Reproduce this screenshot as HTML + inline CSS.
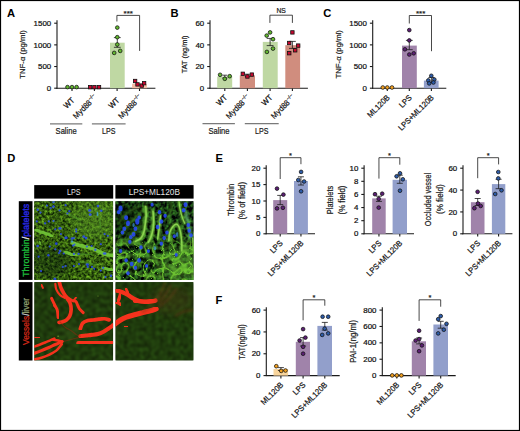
<!DOCTYPE html>
<html><head><meta charset="utf-8"><style>
html,body{margin:0;padding:0;background:#fff;}
svg{display:block;}
text{font-family:"Liberation Sans", sans-serif;}
</style></head><body>
<svg width="520" height="431" viewBox="0 0 520 431">
<rect x="0" y="0" width="520" height="431" fill="#fff"/>
<defs>
<clipPath id="cTL"><rect x="34.2" y="201.2" width="78.9" height="78.7"/></clipPath>
<clipPath id="cTR"><rect x="115.4" y="201.2" width="78.1" height="78.7"/></clipPath>
<clipPath id="cBL"><rect x="34.2" y="282.1" width="78.9" height="78.4"/></clipPath>
<clipPath id="cBR"><rect x="115.4" y="282.1" width="78.1" height="78.4"/></clipPath>
<filter id="nTL" x="0" y="0" width="100%" height="100%" color-interpolation-filters="sRGB">
<feTurbulence type="fractalNoise" baseFrequency="0.38" numOctaves="2" seed="7"/>
<feColorMatrix type="matrix" values="0.7 0 0 0 -0.14  1.05 0 0 0 -0.15  0.2 0 0 0 -0.04  0 0 0 0 1"/>
<feGaussianBlur stdDeviation="0.45"/>
</filter>
<filter id="nTR" x="0" y="0" width="100%" height="100%" color-interpolation-filters="sRGB">
<feTurbulence type="fractalNoise" baseFrequency="0.26" numOctaves="2" seed="9"/>
<feColorMatrix type="matrix" values="0.5 0 0 0 -0.17  1.2 0 0 0 -0.4  0.3 0 0 0 -0.08  0 0 0 0 1"/>
<feGaussianBlur stdDeviation="0.5"/>
</filter>
<filter id="nBL" x="0" y="0" width="100%" height="100%" color-interpolation-filters="sRGB">
<feTurbulence type="fractalNoise" baseFrequency="0.25" numOctaves="2" seed="11"/>
<feColorMatrix type="matrix" values="0.16 0 0 0 0.04  0.34 0 0 0 0.06  0.08 0 0 0 0.01  0 0 0 0 1"/>
<feGaussianBlur stdDeviation="0.8"/>
</filter>
<filter id="nBR" x="0" y="0" width="100%" height="100%" color-interpolation-filters="sRGB">
<feTurbulence type="fractalNoise" baseFrequency="0.25" numOctaves="2" seed="13"/>
<feColorMatrix type="matrix" values="0.16 0 0 0 0.04  0.34 0 0 0 0.06  0.08 0 0 0 0.01  0 0 0 0 1"/>
<feGaussianBlur stdDeviation="0.8"/>
</filter>
<filter id="net" x="0" y="0" width="100%" height="100%" color-interpolation-filters="sRGB">
<feTurbulence type="turbulence" baseFrequency="0.11" numOctaves="1" seed="21"/>
<feColorMatrix type="matrix" values="0 0 0 0 0.45  0 0 0 0 0.8  0 0 0 0 0.2  -7 0 0 0 1.0"/>
<feGaussianBlur stdDeviation="0.55"/>
</filter>
<filter id="b03"><feGaussianBlur stdDeviation="0.3"/></filter>
<filter id="b05"><feGaussianBlur stdDeviation="0.5"/></filter>
<filter id="b07"><feGaussianBlur stdDeviation="0.7"/></filter>
<filter id="b09" x="-20%" y="-20%" width="140%" height="140%"><feGaussianBlur stdDeviation="0.9"/></filter>
<filter id="b12" x="-50%" y="-50%" width="200%" height="200%"><feGaussianBlur stdDeviation="1.2"/></filter>
<filter id="b4" x="-50%" y="-50%" width="200%" height="200%"><feGaussianBlur stdDeviation="5"/></filter>
</defs>
<rect x="34.2" y="185.1" width="79" height="13.5" fill="#000"/>
<rect x="115.4" y="185.1" width="78.2" height="13.5" fill="#000"/>
<text x="73.7" y="194.8" font-size="9.1" text-anchor="middle" fill="#e6e6e6" textLength="13.6" lengthAdjust="spacingAndGlyphs">LPS</text>
<text x="154.3" y="194.7" font-size="9.1" text-anchor="middle" fill="#e6e6e6" textLength="51.2" lengthAdjust="spacingAndGlyphs">LPS+ML120B</text>
<rect x="18.8" y="201.2" width="13.7" height="78.7" fill="#000"/>
<rect x="18.8" y="282.1" width="13.7" height="78.4" fill="#000"/>
<text transform="translate(28.8,240.3) rotate(-90)" font-size="8.6" text-anchor="middle" textLength="73" lengthAdjust="spacingAndGlyphs" stroke-width="0.35"><tspan fill="#1db83a" stroke="#1db83a">Thrombin</tspan><tspan fill="#e0e0e0" stroke="#e0e0e0">/</tspan><tspan fill="#2a2ae6" stroke="#2a2ae6">platelets</tspan></text>
<text transform="translate(28.8,321.5) rotate(-90)" font-size="8.6" text-anchor="middle" textLength="47" lengthAdjust="spacingAndGlyphs" stroke-width="0.25"><tspan fill="#d82a18" stroke="#d82a18">Vessels</tspan><tspan fill="#e0e0e0" stroke="#e0e0e0">/</tspan><tspan fill="#93a472" stroke="#93a472">liver</tspan></text>
<g clip-path="url(#cTL)">
<rect x="34.2" y="201.2" width="78.9" height="78.7" fill="#22401a"/>
<rect x="34.2" y="201.2" width="78.9" height="78.7" filter="url(#nTL)"/>
<ellipse cx="95" cy="220" rx="24" ry="20" fill="#5c9a2c" opacity="0.4" filter="url(#b4)"/>
<ellipse cx="50" cy="262" rx="22" ry="16" fill="#0e2008" opacity="0.45" filter="url(#b4)"/>
<path d="M35.9,229.8 C36.52,230.1 38.22,231.07 39.6,231.6 C40.98,232.13 42.67,232.53 44.2,233 C45.73,233.47 47.57,233.85 48.8,234.4 C50.03,234.95 51.13,235.98 51.6,236.3" fill="none" stroke="#72c639" stroke-width="3.0" stroke-linecap="round" stroke-linejoin="round" opacity="0.9" filter="url(#b07)"/>
<path d="M73,243.2 C73.93,243.52 76.75,244.55 78.6,245.1 C80.45,245.65 82.25,246.03 84.1,246.5 C85.95,246.97 87.83,247.37 89.7,247.9 C91.57,248.43 93.45,248.93 95.3,249.7 C97.15,250.47 98.95,251.72 100.8,252.5 C102.65,253.28 104.28,253.9 106.4,254.4 C108.52,254.9 112.32,255.32 113.5,255.5" fill="none" stroke="#72c639" stroke-width="3.6" stroke-linecap="round" stroke-linejoin="round" opacity="0.95" filter="url(#b07)"/>
<path d="M65.6,252.1 C66.08,252.28 67.43,252.75 68.5,253.2 C69.57,253.65 70.75,254.42 72,254.8 C73.25,255.18 75.33,255.38 76,255.5" fill="none" stroke="#72c639" stroke-width="3.2" stroke-linecap="round" stroke-linejoin="round" opacity="0.9" filter="url(#b07)"/>
<path d="M102.7,267.8 C103.63,268.03 106.42,268.73 108.3,269.2 C110.18,269.67 113.05,270.37 114,270.6" fill="none" stroke="#72c639" stroke-width="3.0" stroke-linecap="round" stroke-linejoin="round" opacity="0.9" filter="url(#b07)"/>
<path d="M77.6,253.9 C78.67,254 81.67,254.35 84,254.5 C86.33,254.65 90.33,254.75 91.6,254.8" fill="none" stroke="#4e9628" stroke-width="2.0" stroke-linecap="round" stroke-linejoin="round" opacity="0.7" filter="url(#b07)"/>
<path d="M96.7,211.2 C97,212 97.97,214.45 98.5,216 C99.03,217.55 99.57,218.5 99.9,220.5 C100.23,222.5 100.4,226.75 100.5,228" fill="none" stroke="#4e9628" stroke-width="1.6" stroke-linecap="round" stroke-linejoin="round" opacity="0.7" filter="url(#b07)"/>
<path d="M60,208 C61,208.67 64,210.67 66,212 C68,213.33 70,214.83 72,216 C74,217.17 77,218.5 78,219" fill="none" stroke="#4e9628" stroke-width="2.0" stroke-linecap="round" stroke-linejoin="round" opacity="0.6" filter="url(#b07)"/>
<path d="M39.6,242 L40.5,244" fill="none" stroke="#72c639" stroke-width="2.0" stroke-linecap="round" stroke-linejoin="round" opacity="0.8" filter="url(#b07)"/>
<path d="M80,262 C81.33,262.17 85.33,262.5 88,263 C90.67,263.5 94.67,264.67 96,265" fill="none" stroke="#4e9628" stroke-width="1.8" stroke-linecap="round" stroke-linejoin="round" opacity="0.6" filter="url(#b07)"/>
<g filter="url(#b07)" opacity="0.8">
<ellipse cx="53.5" cy="202" rx="1.3" ry="1.3" fill="#2a4cff"/>
<ellipse cx="53.5" cy="206.6" rx="1.3" ry="1.3" fill="#2a4cff"/>
<ellipse cx="50.7" cy="208" rx="1.1" ry="1.1" fill="#2a4cff"/>
<ellipse cx="37.7" cy="209.8" rx="1.2" ry="1.2" fill="#2a4cff"/>
<ellipse cx="40.5" cy="212.6" rx="1.1" ry="1.1" fill="#2a4cff"/>
<ellipse cx="36.8" cy="221.4" rx="1.1" ry="1.1" fill="#2a4cff"/>
<ellipse cx="48.8" cy="221.4" rx="1.1" ry="1.1" fill="#2a4cff"/>
<ellipse cx="53.5" cy="221" rx="1.1" ry="1.1" fill="#2a4cff"/>
<ellipse cx="45.1" cy="223.3" rx="1.1" ry="1.1" fill="#2a4cff"/>
<ellipse cx="60" cy="228.4" rx="1.7" ry="1.4" fill="#2a4cff"/>
<ellipse cx="55.3" cy="229.3" rx="1.1" ry="1.1" fill="#2a4cff"/>
<ellipse cx="60.9" cy="234" rx="1.1" ry="1.1" fill="#2a4cff"/>
<ellipse cx="66" cy="237.7" rx="1.8" ry="1.5" fill="#2a4cff"/>
<ellipse cx="72" cy="238.6" rx="1.4" ry="1.4" fill="#2a4cff"/>
<ellipse cx="69.3" cy="211.2" rx="1.1" ry="1.1" fill="#2a4cff"/>
<ellipse cx="67.4" cy="213.5" rx="1.1" ry="1.1" fill="#2a4cff"/>
<ellipse cx="59.5" cy="210.3" rx="1.1" ry="1.1" fill="#2a4cff"/>
<ellipse cx="47" cy="205.6" rx="1.1" ry="1.1" fill="#2a4cff"/>
<ellipse cx="65.6" cy="205.2" rx="1.1" ry="1.1" fill="#2a4cff"/>
<ellipse cx="98" cy="206.1" rx="1.3" ry="1.3" fill="#2a4cff"/>
<ellipse cx="89.7" cy="210.3" rx="1.6" ry="1.6" fill="#2a4cff"/>
<ellipse cx="90.2" cy="214.5" rx="1.5" ry="1.5" fill="#2a4cff"/>
<ellipse cx="101.3" cy="210.7" rx="1.3" ry="1.3" fill="#2a4cff"/>
<ellipse cx="76.2" cy="229.3" rx="1.1" ry="1.1" fill="#2a4cff"/>
<ellipse cx="76.2" cy="231.6" rx="1.1" ry="1.1" fill="#2a4cff"/>
<ellipse cx="83.7" cy="236.7" rx="1.4" ry="1.4" fill="#2a4cff"/>
<ellipse cx="86" cy="238.1" rx="1.4" ry="1.4" fill="#2a4cff"/>
<ellipse cx="73.9" cy="238.1" rx="1.1" ry="1.1" fill="#2a4cff"/>
<ellipse cx="107.8" cy="235.8" rx="1.1" ry="1.1" fill="#2a4cff"/>
<ellipse cx="104.6" cy="234" rx="1.1" ry="1.1" fill="#2a4cff"/>
<ellipse cx="37.7" cy="246" rx="1.3" ry="1.3" fill="#2a4cff"/>
<ellipse cx="56.3" cy="243.7" rx="1.4" ry="1.4" fill="#2a4cff"/>
<ellipse cx="49.8" cy="246.5" rx="1.1" ry="1.1" fill="#2a4cff"/>
<ellipse cx="55.3" cy="249.3" rx="1.1" ry="1.1" fill="#2a4cff"/>
<ellipse cx="60" cy="251.1" rx="1.3" ry="1.3" fill="#2a4cff"/>
<ellipse cx="59" cy="253" rx="1.1" ry="1.1" fill="#2a4cff"/>
<ellipse cx="63.7" cy="253.5" rx="1.1" ry="1.1" fill="#2a4cff"/>
<ellipse cx="48.4" cy="255.3" rx="1.2" ry="1.2" fill="#2a4cff"/>
<ellipse cx="38.6" cy="256.7" rx="1.1" ry="1.1" fill="#2a4cff"/>
<ellipse cx="65.6" cy="266" rx="1.1" ry="1.1" fill="#2a4cff"/>
<ellipse cx="62.8" cy="266.9" rx="1.1" ry="1.1" fill="#2a4cff"/>
<ellipse cx="41" cy="271.1" rx="1.1" ry="1.1" fill="#2a4cff"/>
<ellipse cx="54.9" cy="279" rx="1.5" ry="1.5" fill="#2a4cff"/>
<ellipse cx="73" cy="245.6" rx="1.1" ry="1.1" fill="#2a4cff"/>
<ellipse cx="74.4" cy="244.6" rx="1.1" ry="1.1" fill="#2a4cff"/>
<ellipse cx="100.8" cy="244.2" rx="1.1" ry="1.1" fill="#2a4cff"/>
<ellipse cx="91.6" cy="246" rx="1.1" ry="1.1" fill="#2a4cff"/>
<ellipse cx="86.9" cy="246.5" rx="1.1" ry="1.1" fill="#2a4cff"/>
<ellipse cx="95.3" cy="249.7" rx="1.2" ry="1.2" fill="#2a4cff"/>
<ellipse cx="104.6" cy="253.5" rx="1.8" ry="1.3" fill="#2a4cff"/>
<ellipse cx="73.9" cy="253.9" rx="1.1" ry="1.1" fill="#2a4cff"/>
<ellipse cx="78.6" cy="253.9" rx="1.1" ry="1.1" fill="#2a4cff"/>
<ellipse cx="79" cy="264.1" rx="1.1" ry="1.1" fill="#2a4cff"/>
<ellipse cx="87.4" cy="264.6" rx="1.7" ry="1.4" fill="#2a4cff"/>
<ellipse cx="87.8" cy="266.9" rx="1.1" ry="1.1" fill="#2a4cff"/>
<ellipse cx="92" cy="266.9" rx="1.1" ry="1.1" fill="#2a4cff"/>
<ellipse cx="94.3" cy="268.8" rx="1.1" ry="1.1" fill="#2a4cff"/>
<ellipse cx="103.2" cy="267.8" rx="1.1" ry="1.1" fill="#2a4cff"/>
<ellipse cx="73.9" cy="266" rx="1.1" ry="1.1" fill="#2a4cff"/>
<ellipse cx="111" cy="275.7" rx="1.3" ry="1.3" fill="#2a4cff"/>
<ellipse cx="105.5" cy="277.1" rx="1.1" ry="1.1" fill="#2a4cff"/>
<ellipse cx="100.8" cy="270.6" rx="1.1" ry="1.1" fill="#2a4cff"/>
</g>
<g filter="url(#b05)" opacity="0.8">
<ellipse cx="72" cy="241.4" rx="1.2" ry="1.2" fill="#3f9ad8"/>
<ellipse cx="97.5" cy="214" rx="0.9" ry="2.2" fill="#3f9ad8"/>
</g>
</g>
<g clip-path="url(#cTR)">
<rect x="115.4" y="201.2" width="78.1" height="78.7" fill="#15280c"/>
<rect x="115.4" y="201.2" width="78.1" height="78.7" filter="url(#nTR)"/>
<ellipse cx="180" cy="266" rx="18" ry="16" fill="#5aa030" opacity="0.45" filter="url(#b4)"/>
<ellipse cx="128" cy="222" rx="14" ry="18" fill="#061006" opacity="0.45" filter="url(#b4)"/>
<linearGradient id="gnet" x1="0" y1="0" x2="0" y2="1"><stop offset="0.38" stop-color="#fff" stop-opacity="0"/><stop offset="0.62" stop-color="#fff" stop-opacity="1"/></linearGradient>
<mask id="mnet"><rect x="115.4" y="201.2" width="78.1" height="78.7" fill="url(#gnet)"/></mask>
<rect x="115.4" y="201.2" width="78.1" height="78.7" filter="url(#net)" opacity="0.9" mask="url(#mnet)"/>
<path d="M145.61,206.57 C145.71,208.11 146.26,212.75 146.17,215.84 C146.08,218.93 145.46,222.34 145.06,225.12 C144.65,227.9 144.44,230.38 143.76,232.54 C143.08,234.7 142.37,236.62 140.97,238.11 C139.58,239.59 136.34,240.89 135.41,241.45" fill="none" stroke="#72c639" stroke-width="3.57" stroke-linecap="round" stroke-linejoin="round" opacity="0.9025" filter="url(#b09)"/>
<path d="M145.61,206.57 C145.71,208.11 146.26,212.75 146.17,215.84 C146.08,218.93 145.46,222.34 145.06,225.12 C144.65,227.9 144.44,230.38 143.76,232.54 C143.08,234.7 142.37,236.62 140.97,238.11 C139.58,239.59 136.34,240.89 135.41,241.45" fill="none" stroke="#96dc58" stroke-width="1.53" stroke-linecap="round" stroke-linejoin="round" opacity="0.85" filter="url(#b03)"/>
<path d="M153.03,211.2 C153.13,212.6 153.59,216.62 153.59,219.55 C153.59,222.49 153.44,226.05 153.03,228.83 C152.63,231.61 151.95,234.02 151.18,236.25 C150.41,238.48 148.86,241.2 148.4,242.19" fill="none" stroke="#72c639" stroke-width="3.57" stroke-linecap="round" stroke-linejoin="round" opacity="0.9025" filter="url(#b09)"/>
<path d="M153.03,211.2 C153.13,212.6 153.59,216.62 153.59,219.55 C153.59,222.49 153.44,226.05 153.03,228.83 C152.63,231.61 151.95,234.02 151.18,236.25 C150.41,238.48 148.86,241.2 148.4,242.19" fill="none" stroke="#96dc58" stroke-width="1.53" stroke-linecap="round" stroke-linejoin="round" opacity="0.85" filter="url(#b03)"/>
<path d="M160.45,215.84 C160.3,217.39 159.84,222.34 159.53,225.12 C159.22,227.9 158.91,230.22 158.6,232.54 C158.29,234.86 157.83,237.95 157.67,239.03" fill="none" stroke="#72c639" stroke-width="3.1500000000000004" stroke-linecap="round" stroke-linejoin="round" opacity="0.855" filter="url(#b09)"/>
<path d="M160.45,215.84 C160.3,217.39 159.84,222.34 159.53,225.12 C159.22,227.9 158.91,230.22 158.6,232.54 C158.29,234.86 157.83,237.95 157.67,239.03" fill="none" stroke="#96dc58" stroke-width="1.35" stroke-linecap="round" stroke-linejoin="round" opacity="0.85" filter="url(#b03)"/>
<path d="M122.42,232.54 C123.04,231.61 124.28,229.14 126.13,226.97 C127.99,224.81 131.08,222.03 133.55,219.55 C136.03,217.08 139.12,213.99 140.97,212.13 C142.83,210.28 144.07,209.04 144.68,208.42" fill="none" stroke="#4e9628" stroke-width="2.1" stroke-linecap="round" stroke-linejoin="round" opacity="0.8075" filter="url(#b09)"/>
<path d="M118.71,223.26 C119.64,222.03 122.11,218.01 124.28,215.84 C126.44,213.68 129.22,211.82 131.7,210.28 C134.17,208.73 137.88,207.18 139.12,206.57" fill="none" stroke="#4e9628" stroke-width="1.8900000000000001" stroke-linecap="round" stroke-linejoin="round" opacity="0.76" filter="url(#b09)"/>
<path d="M126.13,241.82 C127.06,240.58 129.84,236.56 131.7,234.4 C133.55,232.23 135.72,230.38 137.26,228.83 C138.81,227.28 140.36,225.74 140.97,225.12" fill="none" stroke="#4e9628" stroke-width="2.1" stroke-linecap="round" stroke-linejoin="round" opacity="0.8075" filter="url(#b09)"/>
<path d="M168.8,240.89 C168.96,239.5 169.11,234.86 169.73,232.54 C170.35,230.22 171.43,228.37 172.51,226.97 C173.6,225.58 175.14,224.19 176.22,224.19 C177.31,224.19 178.23,225.27 179.01,226.97 C179.78,228.67 180.4,231.61 180.86,234.4 C181.33,237.18 181.64,240.89 181.79,243.67 C181.94,246.45 181.79,249.86 181.79,251.09" fill="none" stroke="#72c639" stroke-width="3.1500000000000004" stroke-linecap="round" stroke-linejoin="round" opacity="0.855" filter="url(#b09)"/>
<path d="M168.8,240.89 C168.96,239.5 169.11,234.86 169.73,232.54 C170.35,230.22 171.43,228.37 172.51,226.97 C173.6,225.58 175.14,224.19 176.22,224.19 C177.31,224.19 178.23,225.27 179.01,226.97 C179.78,228.67 180.4,231.61 180.86,234.4 C181.33,237.18 181.64,240.89 181.79,243.67 C181.94,246.45 181.79,249.86 181.79,251.09" fill="none" stroke="#96dc58" stroke-width="1.35" stroke-linecap="round" stroke-linejoin="round" opacity="0.85" filter="url(#b03)"/>
<path d="M179.01,201 C179.16,202.24 179.47,205.95 179.94,208.42 C180.4,210.89 181.02,213.37 181.79,215.84 C182.56,218.32 184.11,222.03 184.57,223.26" fill="none" stroke="#72c639" stroke-width="2.7300000000000004" stroke-linecap="round" stroke-linejoin="round" opacity="0.855" filter="url(#b09)"/>
<path d="M179.01,201 C179.16,202.24 179.47,205.95 179.94,208.42 C180.4,210.89 181.02,213.37 181.79,215.84 C182.56,218.32 184.11,222.03 184.57,223.26" fill="none" stroke="#96dc58" stroke-width="1.1700000000000002" stroke-linecap="round" stroke-linejoin="round" opacity="0.85" filter="url(#b03)"/>
<path d="M185.5,212.13 C185.81,213.37 186.74,216.77 187.36,219.55 C187.97,222.34 188.75,225.74 189.21,228.83 C189.68,231.92 189.98,236.56 190.14,238.11" fill="none" stroke="#6cc27a" stroke-width="2.7300000000000004" stroke-linecap="round" stroke-linejoin="round" opacity="0.8075" filter="url(#b09)"/>
<path d="M170.66,201 C170.81,202.24 171.9,205.95 171.59,208.42 C171.28,210.89 169.42,213.37 168.8,215.84 C168.18,218.32 168.03,222.03 167.88,223.26" fill="none" stroke="#4e9628" stroke-width="2.1" stroke-linecap="round" stroke-linejoin="round" opacity="0.76" filter="url(#b09)"/>
<path d="M115,245.53 C116.24,245.22 119.95,244.14 122.42,243.67 C124.89,243.21 127.37,242.74 129.84,242.74 C132.32,242.74 134.79,243.21 137.26,243.67 C139.74,244.14 142.21,244.91 144.68,245.53 C147.16,246.15 149.32,246.92 152.11,247.38 C154.89,247.85 158.29,248.31 161.38,248.31 C164.47,248.31 168.18,247.85 170.66,247.38 C173.13,246.92 175.3,245.84 176.22,245.53" fill="none" stroke="#72c639" stroke-width="2.21" stroke-linecap="round" stroke-linejoin="round" opacity="0.54" filter="url(#b09)"/>
<path d="M126.13,256.66 C127.99,256.35 133.86,254.8 137.26,254.8 C140.66,254.8 143.14,256.35 146.54,256.66 C149.94,256.97 154.27,256.97 157.67,256.66 C161.07,256.35 163.86,255.42 166.95,254.8 C170.04,254.18 172.51,253.88 176.22,252.95 C179.94,252.02 187.05,249.86 189.21,249.24" fill="none" stroke="#72c639" stroke-width="2.38" stroke-linecap="round" stroke-linejoin="round" opacity="0.54" filter="url(#b09)"/>
<path d="M133.55,265.94 C134.79,265.32 138.5,263.15 140.97,262.22 C143.45,261.3 145.3,260.37 148.4,260.37 C151.49,260.37 156.43,261.3 159.53,262.22 C162.62,263.15 164.17,264.7 166.95,265.94 C169.73,267.17 173.13,268.72 176.22,269.65 C179.32,270.57 182.38,271.5 185.5,271.5 C188.62,271.5 193.39,269.95 194.96,269.65" fill="none" stroke="#72c639" stroke-width="2.38" stroke-linecap="round" stroke-linejoin="round" opacity="0.54" filter="url(#b09)"/>
<path d="M115,275.21 C116.86,274.59 122.42,271.81 126.13,271.5 C129.84,271.19 132.93,272.74 137.26,273.36 C141.59,273.97 147.78,274.59 152.11,275.21 C156.43,275.83 161.38,276.76 163.24,277.07" fill="none" stroke="#72c639" stroke-width="2.21" stroke-linecap="round" stroke-linejoin="round" opacity="0.51" filter="url(#b09)"/>
<path d="M185.5,247.38 C185.96,248.93 187.36,253.26 188.28,256.66 C189.21,260.06 190.14,263.74 191.07,267.79 C191.99,271.84 193.39,278.77 193.85,280.96" fill="none" stroke="#72c639" stroke-width="3.06" stroke-linecap="round" stroke-linejoin="round" opacity="0.57" filter="url(#b09)"/>
<path d="M170.66,256.66 C170.97,257.9 171.9,261.61 172.51,264.08 C173.13,266.55 173.75,268.69 174.37,271.5 C174.99,274.31 175.92,279.39 176.22,280.96" fill="none" stroke="#72c639" stroke-width="2.38" stroke-linecap="round" stroke-linejoin="round" opacity="0.54" filter="url(#b09)"/>
<path d="M152.11,247.38 C152.57,248.62 154.12,252.33 154.89,254.8 C155.66,257.28 155.97,259.44 156.74,262.22 C157.52,265.01 158.91,268.38 159.53,271.5 C160.15,274.62 160.3,279.39 160.45,280.96" fill="none" stroke="#72c639" stroke-width="2.04" stroke-linecap="round" stroke-linejoin="round" opacity="0.51" filter="url(#b09)"/>
<path d="M137.26,254.8 C137.42,256.04 138.35,259.75 138.19,262.22 C138.04,264.7 136.65,268.41 136.34,269.65" fill="none" stroke="#72c639" stroke-width="1.87" stroke-linecap="round" stroke-linejoin="round" opacity="0.48" filter="url(#b09)"/>
<path d="M115,260.37 C115.93,259.75 118.71,257.28 120.57,256.66 C122.42,256.04 125.2,256.66 126.13,256.66" fill="none" stroke="#4e9628" stroke-width="1.87" stroke-linecap="round" stroke-linejoin="round" opacity="0.48" filter="url(#b09)"/>
<path d="M115,267.79 C116.24,267.48 119.33,266.24 122.42,265.94 C125.51,265.63 131.7,265.94 133.55,265.94" fill="none" stroke="#4e9628" stroke-width="1.7" stroke-linecap="round" stroke-linejoin="round" opacity="0.48" filter="url(#b09)"/>
<path d="M178.08,252.95 C178.7,254.18 180.55,257.28 181.79,260.37 C183.03,263.46 184.88,269.65 185.5,271.5" fill="none" stroke="#72c639" stroke-width="2.04" stroke-linecap="round" stroke-linejoin="round" opacity="0.51" filter="url(#b09)"/>
<path d="M192.92,238.11 C193.08,239.96 193.51,246.15 193.85,249.24 C194.19,252.33 194.78,255.42 194.96,256.66" fill="none" stroke="#72c639" stroke-width="3.1500000000000004" stroke-linecap="round" stroke-linejoin="round" opacity="0.855" filter="url(#b09)"/>
<path d="M192.92,238.11 C193.08,239.96 193.51,246.15 193.85,249.24 C194.19,252.33 194.78,255.42 194.96,256.66" fill="none" stroke="#96dc58" stroke-width="1.35" stroke-linecap="round" stroke-linejoin="round" opacity="0.85" filter="url(#b03)"/>
<g filter="url(#b07)" opacity="0.85">
<ellipse cx="120.57" cy="208.42" rx="2.08" ry="3.04" fill="#2a4cff"/>
<ellipse cx="118.71" cy="212.13" rx="1.76" ry="2.09" fill="#2a4cff"/>
<ellipse cx="126.13" cy="217.7" rx="2.08" ry="2.47" fill="#2a4cff"/>
<ellipse cx="127.99" cy="223.26" rx="1.92" ry="2.85" fill="#2a4cff"/>
<ellipse cx="124.28" cy="228.83" rx="1.92" ry="2.28" fill="#2a4cff"/>
<ellipse cx="122.42" cy="232.54" rx="1.76" ry="2.09" fill="#2a4cff"/>
<ellipse cx="137.26" cy="221.41" rx="2.08" ry="3.23" fill="#2a4cff"/>
<ellipse cx="139.12" cy="217.7" rx="1.76" ry="2.09" fill="#2a4cff"/>
<ellipse cx="135.41" cy="228.83" rx="1.92" ry="2.28" fill="#2a4cff"/>
<ellipse cx="133.55" cy="234.4" rx="1.92" ry="2.28" fill="#2a4cff"/>
<ellipse cx="130.77" cy="237.18" rx="1.76" ry="2.09" fill="#2a4cff"/>
<ellipse cx="129.84" cy="241.82" rx="1.76" ry="2.09" fill="#2a4cff"/>
<ellipse cx="140.97" cy="247.38" rx="1.76" ry="2.09" fill="#2a4cff"/>
<ellipse cx="159.53" cy="212.13" rx="1.76" ry="2.09" fill="#2a4cff"/>
<ellipse cx="165.09" cy="215.84" rx="1.76" ry="2.09" fill="#2a4cff"/>
<ellipse cx="161.38" cy="221.41" rx="1.92" ry="2.28" fill="#2a4cff"/>
<ellipse cx="157.67" cy="226.97" rx="1.92" ry="2.28" fill="#2a4cff"/>
<ellipse cx="166.95" cy="232.54" rx="1.76" ry="2.09" fill="#2a4cff"/>
<ellipse cx="164.17" cy="238.11" rx="1.76" ry="2.09" fill="#2a4cff"/>
<ellipse cx="161.38" cy="243.67" rx="1.76" ry="2.09" fill="#2a4cff"/>
<ellipse cx="185.5" cy="204.71" rx="2.08" ry="2.47" fill="#2a4cff"/>
<ellipse cx="183.65" cy="210.28" rx="1.92" ry="2.28" fill="#2a4cff"/>
<ellipse cx="188.28" cy="225.12" rx="1.76" ry="2.09" fill="#2a4cff"/>
<ellipse cx="189.21" cy="230.68" rx="1.76" ry="2.09" fill="#2a4cff"/>
<ellipse cx="191.07" cy="235.32" rx="1.76" ry="2.09" fill="#2a4cff"/>
<ellipse cx="131.7" cy="264.08" rx="1.92" ry="2.28" fill="#2a4cff"/>
<ellipse cx="139.12" cy="260.37" rx="1.92" ry="2.28" fill="#2a4cff"/>
<ellipse cx="126.13" cy="260.37" rx="1.76" ry="2.09" fill="#2a4cff"/>
<ellipse cx="120.57" cy="251.09" rx="1.76" ry="2.09" fill="#2a4cff"/>
<ellipse cx="135.41" cy="267.79" rx="1.76" ry="2.09" fill="#2a4cff"/>
<ellipse cx="127.99" cy="273.36" rx="1.76" ry="2.09" fill="#2a4cff"/>
<ellipse cx="148.4" cy="251.09" rx="1.6" ry="1.9" fill="#2a4cff"/>
<ellipse cx="176.22" cy="254.8" rx="1.6" ry="1.9" fill="#2a4cff"/>
<ellipse cx="152.11" cy="204.71" rx="1.6" ry="1.9" fill="#2a4cff"/>
<ellipse cx="174.37" cy="236.25" rx="1.6" ry="1.9" fill="#2a4cff"/>
<ellipse cx="146.54" cy="265.94" rx="1.6" ry="1.9" fill="#2a4cff"/>
</g>
<g filter="url(#b07)" opacity="0.7">
<ellipse cx="154.89" cy="248.31" rx="1.4" ry="2" fill="#3f9ad8"/>
<ellipse cx="177.15" cy="234.4" rx="1.2" ry="2.5" fill="#3f9ad8"/>
<ellipse cx="133.55" cy="225.12" rx="1.2" ry="2" fill="#3f9ad8"/>
</g>
<ellipse cx="144.68" cy="260.37" rx="2.23" ry="2.23" fill="#061006" opacity="0.7" filter="url(#b05)"/>
<ellipse cx="142.83" cy="251.09" rx="1.86" ry="1.86" fill="#061006" opacity="0.7" filter="url(#b05)"/>
<ellipse cx="170.66" cy="262.22" rx="1.86" ry="1.86" fill="#061006" opacity="0.7" filter="url(#b05)"/>
<ellipse cx="157.67" cy="251.09" rx="1.67" ry="1.67" fill="#061006" opacity="0.7" filter="url(#b05)"/>
<ellipse cx="129.84" cy="249.24" rx="1.67" ry="1.67" fill="#061006" opacity="0.7" filter="url(#b05)"/>
<ellipse cx="133.55" cy="271.5" rx="1.67" ry="1.67" fill="#061006" opacity="0.7" filter="url(#b05)"/>
<ellipse cx="152.11" cy="267.79" rx="1.86" ry="1.86" fill="#061006" opacity="0.7" filter="url(#b05)"/>
</g>
<g clip-path="url(#cBL)">
<rect x="34.2" y="282.1" width="78.9" height="78.4" fill="#1d3810"/>
<rect x="34.2" y="282.1" width="78.9" height="78.4" filter="url(#nBL)"/>
<ellipse cx="72" cy="332" rx="12" ry="8" fill="#3a5a1a" opacity="0.4" filter="url(#b4)"/>
<path d="M59.05,281.07 C59.36,282.15 60.13,285.56 60.9,287.57 C61.67,289.58 62.6,291.28 63.68,293.13 C64.77,294.99 66.31,297 67.4,298.7 C68.48,300.4 69.56,301.48 70.18,303.34 C70.8,305.19 71.2,307.66 71.11,309.83 C71.01,311.99 70.39,314.62 69.62,316.32 C68.85,318.02 67.77,319.11 66.47,320.03 C65.17,320.96 63.07,321.49 61.83,321.89 C60.59,322.29 59.51,322.35 59.05,322.45" fill="none" stroke="#f5321c" stroke-width="3.7012987012987013" stroke-linecap="round" stroke-linejoin="round" opacity="1.0" filter="url(#b05)"/>
<path d="M55.34,283.86 C55.49,284.78 55.49,287.57 56.26,289.42 C57.04,291.28 58.58,293.6 59.97,294.99 C61.37,296.38 63.84,297.31 64.61,297.77" fill="none" stroke="#f5321c" stroke-width="2.1428571428571432" stroke-linecap="round" stroke-linejoin="round" opacity="1.0" filter="url(#b05)"/>
<path d="M66.47,296.84 C67.4,297.46 70.49,299.78 72.03,300.55 C73.58,301.33 74.82,300.71 75.74,301.48 C76.67,302.25 76.98,303.95 77.6,305.19 C78.22,306.43 78.53,307.66 79.45,308.9 C80.38,310.14 82.55,311.99 83.17,312.61" fill="none" stroke="#f5321c" stroke-width="2.9220779220779223" stroke-linecap="round" stroke-linejoin="round" opacity="1.0" filter="url(#b05)"/>
<path d="M73.89,300.18 L75.93,297.58" fill="none" stroke="#f5321c" stroke-width="1.9480519480519483" stroke-linecap="round" stroke-linejoin="round" opacity="1.0" filter="url(#b05)"/>
<path d="M51.63,298.33 C51.93,299.01 52.86,301.11 53.48,302.41 C54.1,303.71 54.72,304.88 55.34,306.12 C55.95,307.36 56.79,308.59 57.19,309.83 C57.59,311.07 57.59,312.24 57.75,313.54 C57.9,314.84 58.06,316.94 58.12,317.62" fill="none" stroke="#f5321c" stroke-width="2.9220779220779223" stroke-linecap="round" stroke-linejoin="round" opacity="1.0" filter="url(#b05)"/>
<path d="M54.04,305.75 L56.63,307.97" fill="none" stroke="#f5321c" stroke-width="1.9480519480519483" stroke-linecap="round" stroke-linejoin="round" opacity="1.0" filter="url(#b05)"/>
<path d="M41.42,284.78 L42.91,287.94" fill="none" stroke="#f5321c" stroke-width="1.9480519480519483" stroke-linecap="round" stroke-linejoin="round" opacity="1.0" filter="url(#b05)"/>
<path d="M80.38,328.75 C80.75,327.83 81.37,324.55 82.61,323.19 C83.85,321.83 86.01,321.12 87.8,320.59 C89.6,320.06 91.51,320.28 93.37,320.03 C95.22,319.79 97.08,319.32 98.94,319.11 C100.79,318.89 102.8,318.61 104.5,318.73 C106.2,318.86 108.37,319.66 109.14,319.85" fill="none" stroke="#f5321c" stroke-width="3.7012987012987013" stroke-linecap="round" stroke-linejoin="round" opacity="1.0" filter="url(#b05)"/>
<path d="M80.38,336.17 C81.31,336.05 84.09,335.65 85.95,335.43 C87.8,335.22 89.5,335.12 91.51,334.88 C93.52,334.63 96,334.47 98.01,333.95 C100.02,333.42 101.87,332.59 103.57,331.72 C105.27,330.86 106.57,329.87 108.21,328.75 C109.85,327.64 112.54,325.66 113.41,325.04" fill="none" stroke="#f5321c" stroke-width="4.090909090909092" stroke-linecap="round" stroke-linejoin="round" opacity="1.0" filter="url(#b05)"/>
<path d="M78.53,343.22 C79.45,343.22 82.24,343.32 84.09,343.22 C85.95,343.13 87.49,342.76 89.66,342.67 C91.82,342.58 94.61,342.73 97.08,342.67 C99.55,342.61 101.72,342.51 104.5,342.3 C107.28,342.08 112.23,341.52 113.78,341.37" fill="none" stroke="#f5321c" stroke-width="4.675324675324676" stroke-linecap="round" stroke-linejoin="round" opacity="1.0" filter="url(#b05)"/>
<path d="M33.07,337.66 L38.64,337.29" fill="none" stroke="#f5321c" stroke-width="2.9220779220779223" stroke-linecap="round" stroke-linejoin="round" opacity="1.0" filter="url(#b05)"/>
<path d="M33.07,347.12 C34.15,346.72 37.56,345.48 39.57,344.71 C41.58,343.94 43.28,343.26 45.13,342.48 C46.99,341.71 49.15,340.72 50.7,340.07 C52.24,339.42 53.79,338.83 54.41,338.59" fill="none" stroke="#f5321c" stroke-width="2.5324675324675328" stroke-linecap="round" stroke-linejoin="round" opacity="1.0" filter="url(#b05)"/>
<path d="M33.07,353.8 C34.46,353.27 38.79,351.7 41.42,350.65 C44.05,349.59 46.52,348.51 48.84,347.49 C51.16,346.47 53.17,345.48 55.34,344.52 C57.5,343.56 60.75,342.2 61.83,341.74" fill="none" stroke="#f5321c" stroke-width="3.116883116883117" stroke-linecap="round" stroke-linejoin="round" opacity="1.0" filter="url(#b05)"/>
<path d="M33.07,359.55 C34.46,359.24 38.79,358.47 41.42,357.7 C44.05,356.92 46.37,356.09 48.84,354.91 C51.32,353.74 54.1,352.44 56.26,350.65 C58.43,348.85 60.9,345.23 61.83,344.15" fill="none" stroke="#f5321c" stroke-width="2.5324675324675328" stroke-linecap="round" stroke-linejoin="round" opacity="1.0" filter="url(#b05)"/>
<path d="M52.55,339.51 C53.48,339.67 56.42,340.07 58.12,340.44 C59.82,340.81 61.98,341.52 62.76,341.74" fill="none" stroke="#f5321c" stroke-width="2.5324675324675328" stroke-linecap="round" stroke-linejoin="round" opacity="1.0" filter="url(#b05)"/>
<path d="M107.28,320.03 L110.07,319.11" fill="none" stroke="#f5321c" stroke-width="2.337662337662338" stroke-linecap="round" stroke-linejoin="round" opacity="1.0" filter="url(#b05)"/>
<path d="M59.97,321.89 C60.9,322.82 63.68,326 65.54,327.45 C67.4,328.91 69.25,329.37 71.11,330.61 C72.96,331.85 75.13,333.95 76.67,334.88 C78.22,335.8 79.76,335.96 80.38,336.17" fill="none" stroke="#8a2a10" stroke-width="1.1131725417439704" stroke-linecap="round" stroke-linejoin="round" opacity="0.5" filter="url(#b07)"/>
<path d="M63.68,341.37 C64.92,341.06 68.63,340.13 71.11,339.51 C73.58,338.9 77.29,337.97 78.53,337.66" fill="none" stroke="#8a2a10" stroke-width="1.1131725417439704" stroke-linecap="round" stroke-linejoin="round" opacity="0.5" filter="url(#b07)"/>
<g filter="url(#b05)" opacity="0.6">
<ellipse cx="98" cy="296" rx="0.6" ry="0.6" fill="#9acc40"/>
<ellipse cx="58.1" cy="336.3" rx="0.8" ry="0.8" fill="#9acc40"/>
</g>
</g>
<g clip-path="url(#cBR)">
<rect x="115.4" y="282.1" width="78.1" height="78.4" fill="#1c3510"/>
<rect x="115.4" y="282.1" width="78.1" height="78.4" filter="url(#nBR)"/>
<ellipse cx="172" cy="300" rx="22" ry="14" fill="#4a3a12" opacity="0.4" filter="url(#b4)"/>
<path d="M115.93,290.35 C117.01,290.66 120.41,291.43 122.42,292.2 C124.43,292.98 126.13,293.9 127.99,294.99 C129.84,296.07 131.7,297.68 133.55,298.7 C135.41,299.72 137.26,300.58 139.12,301.11 C140.97,301.64 142.83,301.76 144.68,301.85 C146.54,301.94 148.46,301.88 150.25,301.67 C152.04,301.45 154.58,300.74 155.45,300.55" fill="none" stroke="#f5321c" stroke-width="4.341372912801485" stroke-linecap="round" stroke-linejoin="round" opacity="1.0" filter="url(#b05)"/>
<path d="M135.41,300.18 C136.34,300.49 139.12,301.67 140.97,302.04 C142.83,302.41 144.68,302.47 146.54,302.41 C148.4,302.35 151.18,301.79 152.11,301.67" fill="none" stroke="#f5321c" stroke-width="5.788497217068646" stroke-linecap="round" stroke-linejoin="round" opacity="1.0" filter="url(#b05)"/>
<path d="M120.57,294.06 C120.32,294.83 119.55,297.31 119.08,298.7 C118.62,300.09 117.54,301.48 117.78,302.41 C118.03,303.34 120.1,303.95 120.57,304.26" fill="none" stroke="#f5321c" stroke-width="3.376623376623377" stroke-linecap="round" stroke-linejoin="round" opacity="1.0" filter="url(#b05)"/>
<path d="M126.13,289.05 L127.99,292.76" fill="none" stroke="#f5321c" stroke-width="2.653061224489796" stroke-linecap="round" stroke-linejoin="round" opacity="1.0" filter="url(#b05)"/>
<path d="M114.07,324.67 C115.15,323.9 118.56,321.27 120.57,320.03 C122.58,318.8 123.97,318.09 126.13,317.25 C128.3,316.42 130.77,315.8 133.55,315.02 C136.34,314.25 140.05,313.32 142.83,312.61 C145.61,311.9 148.02,311.38 150.25,310.76 C152.48,310.14 155.2,309.21 156.19,308.9" fill="none" stroke="#f5321c" stroke-width="5.0649350649350655" stroke-linecap="round" stroke-linejoin="round" opacity="1.0" filter="url(#b05)"/>
<path d="M125.2,326.53 L127.24,326.16" fill="none" stroke="#f5321c" stroke-width="3.1354359925788504" stroke-linecap="round" stroke-linejoin="round" opacity="1.0" filter="url(#b05)"/>
<path d="M114.07,302.78 L115.93,303.15" fill="none" stroke="#f5321c" stroke-width="2.894248608534323" stroke-linecap="round" stroke-linejoin="round" opacity="1.0" filter="url(#b05)"/>
<path d="M165.09,282.93 C164.47,284.32 162.77,288.34 161.38,291.28 C159.99,294.21 157.52,299.01 156.74,300.55" fill="none" stroke="#6a3a14" stroke-width="3.0" stroke-linecap="round" stroke-linejoin="round" opacity="0.35" filter="url(#b12)"/>
<path d="M176.22,289.42 C174.99,290.97 171.59,295.91 168.8,298.7 C166.02,301.48 161.07,304.88 159.53,306.12" fill="none" stroke="#6a3a14" stroke-width="3.0" stroke-linecap="round" stroke-linejoin="round" opacity="0.35" filter="url(#b12)"/>
<path d="M170.66,285.71 C169.73,287.26 166.95,292.2 165.09,294.99 C163.24,297.77 160.45,301.17 159.53,302.41" fill="none" stroke="#6a3a14" stroke-width="3.0" stroke-linecap="round" stroke-linejoin="round" opacity="0.35" filter="url(#b12)"/>
<path d="M152.11,306.12 L142.83,311.68" fill="none" stroke="#6a3a14" stroke-width="3.0" stroke-linecap="round" stroke-linejoin="round" opacity="0.35" filter="url(#b12)"/>
<path d="M192.92,309.83 C191.38,310.14 186.43,310.76 183.65,311.68 C180.86,312.61 177.46,314.78 176.22,315.4" fill="none" stroke="#6a3a14" stroke-width="3.0" stroke-linecap="round" stroke-linejoin="round" opacity="0.35" filter="url(#b12)"/>
</g>
<text x="7" y="16.8" font-size="11.2" text-anchor="start" font-weight="bold" fill="#000">A</text>
<text x="170.6" y="16.8" font-size="11.2" text-anchor="start" font-weight="bold" fill="#000">B</text>
<text x="323.3" y="16.8" font-size="11.2" text-anchor="start" font-weight="bold" fill="#000">C</text>
<text x="7.3" y="161.6" font-size="11.2" text-anchor="start" font-weight="bold" fill="#000">D</text>
<text x="215.6" y="161.7" font-size="11.2" text-anchor="start" font-weight="bold" fill="#000">E</text>
<text x="215.6" y="304" font-size="11.2" text-anchor="start" font-weight="bold" fill="#000">F</text>
<line x1="57" y1="20.3" x2="57" y2="88.7" stroke="#1a1a1a" stroke-width="1.1"/>
<line x1="54.2" y1="88.2" x2="57" y2="88.2" stroke="#1a1a1a" stroke-width="1.1"/>
<text x="51.2" y="90.9" font-size="7.5" text-anchor="end" font-weight="normal" fill="#111" stroke="#111" stroke-width="0.22" textLength="4.4" lengthAdjust="spacingAndGlyphs">0</text>
<line x1="54.2" y1="66.53" x2="57" y2="66.53" stroke="#1a1a1a" stroke-width="1.1"/>
<text x="51.2" y="69.23" font-size="7.5" text-anchor="end" font-weight="normal" fill="#111" stroke="#111" stroke-width="0.22" textLength="13.2" lengthAdjust="spacingAndGlyphs">500</text>
<line x1="54.2" y1="44.87" x2="57" y2="44.87" stroke="#1a1a1a" stroke-width="1.1"/>
<text x="51.2" y="47.57" font-size="7.5" text-anchor="end" font-weight="normal" fill="#111" stroke="#111" stroke-width="0.22" textLength="17.6" lengthAdjust="spacingAndGlyphs">1000</text>
<line x1="54.2" y1="23.2" x2="57" y2="23.2" stroke="#1a1a1a" stroke-width="1.1"/>
<text x="51.2" y="25.9" font-size="7.5" text-anchor="end" font-weight="normal" fill="#111" stroke="#111" stroke-width="0.22" textLength="17.6" lengthAdjust="spacingAndGlyphs">1500</text>
<text transform="translate(25.2,54.5) rotate(-90)" font-size="8.1" text-anchor="middle" font-weight="normal" fill="#1a1a1a" stroke="#1a1a1a" stroke-width="0.22" textLength="48.5" lengthAdjust="spacingAndGlyphs">TNF-α (pg/ml)</text>
<line x1="56.5" y1="88.2" x2="155.4" y2="88.2" stroke="#1a1a1a" stroke-width="1.1"/>
<line x1="72" y1="88.2" x2="72" y2="91" stroke="#1a1a1a" stroke-width="1.1"/>
<line x1="94.4" y1="88.2" x2="94.4" y2="91" stroke="#1a1a1a" stroke-width="1.1"/>
<line x1="117.1" y1="88.2" x2="117.1" y2="91" stroke="#1a1a1a" stroke-width="1.1"/>
<line x1="139.5" y1="88.2" x2="139.5" y2="91" stroke="#1a1a1a" stroke-width="1.1"/>
<circle cx="67.5" cy="87.1" r="1.85" fill="#62b82f" stroke="#111" stroke-width="0.75"/>
<circle cx="72" cy="87.1" r="1.85" fill="#62b82f" stroke="#111" stroke-width="0.75"/>
<circle cx="76.6" cy="87.1" r="1.85" fill="#62b82f" stroke="#111" stroke-width="0.75"/>
<rect x="88.4" y="85.5" width="3.4" height="3.4" fill="#c8072f" stroke="#111" stroke-width="0.8"/>
<rect x="92.7" y="85.5" width="3.4" height="3.4" fill="#c8072f" stroke="#111" stroke-width="0.8"/>
<rect x="97.3" y="85.5" width="3.4" height="3.4" fill="#c8072f" stroke="#111" stroke-width="0.8"/>
<rect x="110" y="42.7" width="14.7" height="45.5" fill="#bfd8a3"/>
<line x1="117.3" y1="37.6" x2="117.3" y2="47.3" stroke="#1a1a1a" stroke-width="0.8"/>
<line x1="113.9" y1="37.6" x2="120.7" y2="37.6" stroke="#1a1a1a" stroke-width="0.8"/>
<line x1="113.9" y1="47.3" x2="120.7" y2="47.3" stroke="#1a1a1a" stroke-width="0.8"/>
<circle cx="117.3" cy="27.6" r="1.85" fill="#62b82f" stroke="#111" stroke-width="0.75"/>
<circle cx="117.3" cy="37.2" r="1.85" fill="#62b82f" stroke="#111" stroke-width="0.75"/>
<circle cx="117.3" cy="44.5" r="1.85" fill="#62b82f" stroke="#111" stroke-width="0.75"/>
<circle cx="120.2" cy="50.9" r="1.85" fill="#62b82f" stroke="#111" stroke-width="0.75"/>
<circle cx="114.2" cy="52.9" r="1.85" fill="#62b82f" stroke="#111" stroke-width="0.75"/>
<rect x="132.1" y="83.8" width="14.8" height="4.4" fill="#f3bba4"/>
<rect x="133.4" y="79.3" width="3.4" height="3.4" fill="#c8072f" stroke="#111" stroke-width="0.8"/>
<rect x="135.8" y="82.7" width="3.4" height="3.4" fill="#c8072f" stroke="#111" stroke-width="0.8"/>
<rect x="140" y="83.9" width="3.4" height="3.4" fill="#c8072f" stroke="#111" stroke-width="0.8"/>
<rect x="142.4" y="81.5" width="3.4" height="3.4" fill="#c8072f" stroke="#111" stroke-width="0.8"/>
<polyline points="116.9,21.5 116.9,15.4 139.6,15.4 139.6,50.9" fill="none" stroke="#1a1a1a" stroke-width="0.8" stroke-linejoin="miter"/>
<text x="128.2" y="16.4" font-size="8" text-anchor="middle" font-weight="normal" fill="#1a1a1a" stroke="#1a1a1a" stroke-width="0.22">***</text>
<text transform="translate(75,100.8) rotate(-45)" font-size="8.0" text-anchor="end" font-weight="normal" fill="#111" stroke="#111" stroke-width="0.22" textLength="11.69" lengthAdjust="spacingAndGlyphs">WT</text>
<text transform="translate(97.4,98.1) rotate(-45)" font-size="8.0" text-anchor="end" fill="#111" stroke="#111" stroke-width="0.22"><tspan textLength="22.57" lengthAdjust="spacingAndGlyphs">Myd88</tspan><tspan font-size="4.96" dy="-3.36">−/−</tspan></text>
<text transform="translate(120.1,100.8) rotate(-45)" font-size="8.0" text-anchor="end" font-weight="normal" fill="#111" stroke="#111" stroke-width="0.22" textLength="11.69" lengthAdjust="spacingAndGlyphs">WT</text>
<text transform="translate(142.5,98.1) rotate(-45)" font-size="8.0" text-anchor="end" fill="#111" stroke="#111" stroke-width="0.22"><tspan textLength="22.57" lengthAdjust="spacingAndGlyphs">Myd88</tspan><tspan font-size="4.96" dy="-3.36">−/−</tspan></text>
<line x1="50" y1="123.9" x2="82.3" y2="123.9" stroke="#7a7a7a" stroke-width="1.2"/>
<line x1="91.9" y1="123.9" x2="125.6" y2="123.9" stroke="#7a7a7a" stroke-width="1.2"/>
<text x="66.1" y="134" font-size="8.7" text-anchor="middle" font-weight="normal" fill="#1a1a1a" stroke="#1a1a1a" stroke-width="0.22" textLength="21" lengthAdjust="spacingAndGlyphs">Saline</text>
<text x="108.7" y="134" font-size="8.7" text-anchor="middle" font-weight="normal" fill="#1a1a1a" stroke="#1a1a1a" stroke-width="0.22" textLength="13.4" lengthAdjust="spacingAndGlyphs">LPS</text>
<line x1="210" y1="20.3" x2="210" y2="88.7" stroke="#1a1a1a" stroke-width="1.1"/>
<line x1="207.2" y1="88.2" x2="210" y2="88.2" stroke="#1a1a1a" stroke-width="1.1"/>
<text x="204.2" y="90.9" font-size="7.5" text-anchor="end" font-weight="normal" fill="#111" stroke="#111" stroke-width="0.22" textLength="4.4" lengthAdjust="spacingAndGlyphs">0</text>
<line x1="207.2" y1="66.53" x2="210" y2="66.53" stroke="#1a1a1a" stroke-width="1.1"/>
<text x="204.2" y="69.23" font-size="7.5" text-anchor="end" font-weight="normal" fill="#111" stroke="#111" stroke-width="0.22" textLength="8.8" lengthAdjust="spacingAndGlyphs">20</text>
<line x1="207.2" y1="44.87" x2="210" y2="44.87" stroke="#1a1a1a" stroke-width="1.1"/>
<text x="204.2" y="47.57" font-size="7.5" text-anchor="end" font-weight="normal" fill="#111" stroke="#111" stroke-width="0.22" textLength="8.8" lengthAdjust="spacingAndGlyphs">40</text>
<line x1="207.2" y1="23.2" x2="210" y2="23.2" stroke="#1a1a1a" stroke-width="1.1"/>
<text x="204.2" y="25.9" font-size="7.5" text-anchor="end" font-weight="normal" fill="#111" stroke="#111" stroke-width="0.22" textLength="8.8" lengthAdjust="spacingAndGlyphs">60</text>
<text transform="translate(186.9,54.4) rotate(-90)" font-size="7.6" text-anchor="middle" font-weight="normal" fill="#1a1a1a" stroke="#1a1a1a" stroke-width="0.22" textLength="37.8" lengthAdjust="spacingAndGlyphs">TAT (ng/ml)</text>
<line x1="209.5" y1="88.2" x2="307.9" y2="88.2" stroke="#1a1a1a" stroke-width="1.1"/>
<line x1="224.8" y1="88.2" x2="224.8" y2="91" stroke="#1a1a1a" stroke-width="1.1"/>
<line x1="247.4" y1="88.2" x2="247.4" y2="91" stroke="#1a1a1a" stroke-width="1.1"/>
<line x1="270.1" y1="88.2" x2="270.1" y2="91" stroke="#1a1a1a" stroke-width="1.1"/>
<line x1="292.4" y1="88.2" x2="292.4" y2="91" stroke="#1a1a1a" stroke-width="1.1"/>
<rect x="217.2" y="76.5" width="15" height="11.7" fill="#bfd8a3"/>
<rect x="239.8" y="75.4" width="15.2" height="12.8" fill="#d08d7e"/>
<rect x="262.8" y="41.9" width="14.9" height="46.3" fill="#bfd8a3"/>
<rect x="285.3" y="45.2" width="14.8" height="43" fill="#d08d7e"/>
<line x1="224.8" y1="75.2" x2="224.8" y2="78" stroke="#1a1a1a" stroke-width="0.8"/>
<line x1="222.3" y1="75.2" x2="227.3" y2="75.2" stroke="#1a1a1a" stroke-width="0.8"/>
<line x1="222.3" y1="78" x2="227.3" y2="78" stroke="#1a1a1a" stroke-width="0.8"/>
<line x1="247.4" y1="74.2" x2="247.4" y2="76.6" stroke="#1a1a1a" stroke-width="0.8"/>
<line x1="244.9" y1="74.2" x2="249.9" y2="74.2" stroke="#1a1a1a" stroke-width="0.8"/>
<line x1="244.9" y1="76.6" x2="249.9" y2="76.6" stroke="#1a1a1a" stroke-width="0.8"/>
<line x1="270.1" y1="38.4" x2="270.1" y2="45.6" stroke="#1a1a1a" stroke-width="0.8"/>
<line x1="266.7" y1="38.4" x2="273.5" y2="38.4" stroke="#1a1a1a" stroke-width="0.8"/>
<line x1="266.7" y1="45.6" x2="273.5" y2="45.6" stroke="#1a1a1a" stroke-width="0.8"/>
<line x1="292.4" y1="41.4" x2="292.4" y2="48.4" stroke="#1a1a1a" stroke-width="0.8"/>
<line x1="289" y1="41.4" x2="295.8" y2="41.4" stroke="#1a1a1a" stroke-width="0.8"/>
<line x1="289" y1="48.4" x2="295.8" y2="48.4" stroke="#1a1a1a" stroke-width="0.8"/>
<circle cx="220.1" cy="74.8" r="1.85" fill="#62b82f" stroke="#111" stroke-width="0.75"/>
<circle cx="224.8" cy="78.8" r="1.85" fill="#62b82f" stroke="#111" stroke-width="0.75"/>
<circle cx="229.7" cy="76.2" r="1.85" fill="#62b82f" stroke="#111" stroke-width="0.75"/>
<rect x="241.1" y="72.1" width="3.4" height="3.4" fill="#c8072f" stroke="#111" stroke-width="0.8"/>
<rect x="245.7" y="74.8" width="3.4" height="3.4" fill="#c8072f" stroke="#111" stroke-width="0.8"/>
<rect x="250.2" y="72.9" width="3.4" height="3.4" fill="#c8072f" stroke="#111" stroke-width="0.8"/>
<circle cx="270.1" cy="32.4" r="1.85" fill="#62b82f" stroke="#111" stroke-width="0.75"/>
<circle cx="266.7" cy="35.6" r="1.85" fill="#62b82f" stroke="#111" stroke-width="0.75"/>
<circle cx="273" cy="39.2" r="1.85" fill="#62b82f" stroke="#111" stroke-width="0.75"/>
<circle cx="273" cy="48.6" r="1.85" fill="#62b82f" stroke="#111" stroke-width="0.75"/>
<circle cx="266.9" cy="51.9" r="1.85" fill="#62b82f" stroke="#111" stroke-width="0.75"/>
<rect x="290.7" y="30.7" width="3.4" height="3.4" fill="#c8072f" stroke="#111" stroke-width="0.8"/>
<rect x="287.55" y="41.3" width="3.4" height="3.4" fill="#c8072f" stroke="#111" stroke-width="0.8"/>
<rect x="296.5" y="43.9" width="3.4" height="3.4" fill="#c8072f" stroke="#111" stroke-width="0.8"/>
<rect x="293.5" y="48.6" width="3.4" height="3.4" fill="#c8072f" stroke="#111" stroke-width="0.8"/>
<rect x="287.55" y="51.5" width="3.4" height="3.4" fill="#c8072f" stroke="#111" stroke-width="0.8"/>
<polyline points="269.9,22.9 269.9,15.2 292.4,15.2 292.4,22.9" fill="none" stroke="#1a1a1a" stroke-width="0.8" stroke-linejoin="miter"/>
<text x="281.2" y="12.9" font-size="7.4" text-anchor="middle" font-weight="normal" fill="#1a1a1a" stroke="#1a1a1a" stroke-width="0.22" textLength="9.5" lengthAdjust="spacingAndGlyphs">NS</text>
<text transform="translate(227.8,98.1) rotate(-45)" font-size="8.0" text-anchor="end" font-weight="normal" fill="#111" stroke="#111" stroke-width="0.22" textLength="11.69" lengthAdjust="spacingAndGlyphs">WT</text>
<text transform="translate(250.4,98.1) rotate(-45)" font-size="8.0" text-anchor="end" fill="#111" stroke="#111" stroke-width="0.22"><tspan textLength="22.57" lengthAdjust="spacingAndGlyphs">Myd88</tspan><tspan font-size="4.96" dy="-3.36">−/−</tspan></text>
<text transform="translate(273.1,98.1) rotate(-45)" font-size="8.0" text-anchor="end" font-weight="normal" fill="#111" stroke="#111" stroke-width="0.22" textLength="11.69" lengthAdjust="spacingAndGlyphs">WT</text>
<text transform="translate(295.4,98.1) rotate(-45)" font-size="8.0" text-anchor="end" fill="#111" stroke="#111" stroke-width="0.22"><tspan textLength="22.57" lengthAdjust="spacingAndGlyphs">Myd88</tspan><tspan font-size="4.96" dy="-3.36">−/−</tspan></text>
<line x1="202.5" y1="123.7" x2="234.9" y2="123.7" stroke="#7a7a7a" stroke-width="1.2"/>
<line x1="244.8" y1="123.7" x2="278.7" y2="123.7" stroke="#7a7a7a" stroke-width="1.2"/>
<text x="219" y="133.8" font-size="8.7" text-anchor="middle" font-weight="normal" fill="#1a1a1a" stroke="#1a1a1a" stroke-width="0.22" textLength="21" lengthAdjust="spacingAndGlyphs">Saline</text>
<text x="261.8" y="133.8" font-size="8.7" text-anchor="middle" font-weight="normal" fill="#1a1a1a" stroke="#1a1a1a" stroke-width="0.22" textLength="13.4" lengthAdjust="spacingAndGlyphs">LPS</text>
<line x1="372.7" y1="20.3" x2="372.7" y2="88.7" stroke="#1a1a1a" stroke-width="1.1"/>
<line x1="369.9" y1="88.2" x2="372.7" y2="88.2" stroke="#1a1a1a" stroke-width="1.1"/>
<text x="366.9" y="90.9" font-size="7.5" text-anchor="end" font-weight="normal" fill="#111" stroke="#111" stroke-width="0.22" textLength="4.4" lengthAdjust="spacingAndGlyphs">0</text>
<line x1="369.9" y1="66.53" x2="372.7" y2="66.53" stroke="#1a1a1a" stroke-width="1.1"/>
<text x="366.9" y="69.23" font-size="7.5" text-anchor="end" font-weight="normal" fill="#111" stroke="#111" stroke-width="0.22" textLength="13.2" lengthAdjust="spacingAndGlyphs">500</text>
<line x1="369.9" y1="44.87" x2="372.7" y2="44.87" stroke="#1a1a1a" stroke-width="1.1"/>
<text x="366.9" y="47.57" font-size="7.5" text-anchor="end" font-weight="normal" fill="#111" stroke="#111" stroke-width="0.22" textLength="17.6" lengthAdjust="spacingAndGlyphs">1000</text>
<line x1="369.9" y1="23.2" x2="372.7" y2="23.2" stroke="#1a1a1a" stroke-width="1.1"/>
<text x="366.9" y="25.9" font-size="7.5" text-anchor="end" font-weight="normal" fill="#111" stroke="#111" stroke-width="0.22" textLength="17.6" lengthAdjust="spacingAndGlyphs">1500</text>
<text transform="translate(341.3,54.3) rotate(-90)" font-size="8.1" text-anchor="middle" font-weight="normal" fill="#1a1a1a" stroke="#1a1a1a" stroke-width="0.22" textLength="48.5" lengthAdjust="spacingAndGlyphs">TNF-α (pg/ml)</text>
<line x1="372.2" y1="88.2" x2="446.3" y2="88.2" stroke="#1a1a1a" stroke-width="1.1"/>
<line x1="387.3" y1="88.2" x2="387.3" y2="91" stroke="#1a1a1a" stroke-width="1.1"/>
<line x1="409.3" y1="88.2" x2="409.3" y2="91" stroke="#1a1a1a" stroke-width="1.1"/>
<line x1="431.4" y1="88.2" x2="431.4" y2="91" stroke="#1a1a1a" stroke-width="1.1"/>
<circle cx="382.8" cy="87.5" r="1.85" fill="#f4a11f" stroke="#111" stroke-width="0.75"/>
<circle cx="387.3" cy="87.5" r="1.85" fill="#f4a11f" stroke="#111" stroke-width="0.75"/>
<circle cx="392" cy="87.5" r="1.85" fill="#f4a11f" stroke="#111" stroke-width="0.75"/>
<rect x="402" y="45.6" width="14.8" height="42.6" fill="#a083aa"/>
<rect x="423.9" y="80.6" width="14.7" height="7.6" fill="#929fcb"/>
<line x1="409.3" y1="40.4" x2="409.3" y2="49.7" stroke="#1a1a1a" stroke-width="0.8"/>
<line x1="405.9" y1="40.4" x2="412.7" y2="40.4" stroke="#1a1a1a" stroke-width="0.8"/>
<line x1="405.9" y1="49.7" x2="412.7" y2="49.7" stroke="#1a1a1a" stroke-width="0.8"/>
<line x1="431.4" y1="77.5" x2="431.4" y2="82.5" stroke="#1a1a1a" stroke-width="0.8"/>
<line x1="428.4" y1="77.5" x2="434.4" y2="77.5" stroke="#1a1a1a" stroke-width="0.8"/>
<line x1="428.4" y1="82.5" x2="434.4" y2="82.5" stroke="#1a1a1a" stroke-width="0.8"/>
<circle cx="409.3" cy="30.1" r="1.85" fill="#5c1f74" stroke="#111" stroke-width="0.75"/>
<circle cx="409.3" cy="40.4" r="1.85" fill="#5c1f74" stroke="#111" stroke-width="0.75"/>
<circle cx="404.9" cy="49.3" r="1.85" fill="#5c1f74" stroke="#111" stroke-width="0.75"/>
<circle cx="413.7" cy="53.3" r="1.85" fill="#5c1f74" stroke="#111" stroke-width="0.75"/>
<circle cx="409.3" cy="54.5" r="1.85" fill="#5c1f74" stroke="#111" stroke-width="0.75"/>
<circle cx="431.3" cy="75.8" r="1.85" fill="#2d5ca9" stroke="#111" stroke-width="0.75"/>
<circle cx="428.3" cy="80.4" r="1.85" fill="#2d5ca9" stroke="#111" stroke-width="0.75"/>
<circle cx="434.3" cy="79.5" r="1.85" fill="#2d5ca9" stroke="#111" stroke-width="0.75"/>
<circle cx="429.2" cy="83.4" r="1.85" fill="#2d5ca9" stroke="#111" stroke-width="0.75"/>
<circle cx="433.4" cy="82.5" r="1.85" fill="#2d5ca9" stroke="#111" stroke-width="0.75"/>
<polyline points="409.3,23.5 409.3,15.5 431.5,15.5 431.5,51.2" fill="none" stroke="#1a1a1a" stroke-width="0.8" stroke-linejoin="miter"/>
<text x="420.6" y="16.4" font-size="8" text-anchor="middle" font-weight="normal" fill="#1a1a1a" stroke="#1a1a1a" stroke-width="0.22">***</text>
<text transform="translate(390.3,98.1) rotate(-45)" font-size="8.0" text-anchor="end" font-weight="normal" fill="#111" stroke="#111" stroke-width="0.22" textLength="28.01" lengthAdjust="spacingAndGlyphs">ML120B</text>
<text transform="translate(412.3,98.1) rotate(-45)" font-size="8.0" text-anchor="end" font-weight="normal" fill="#111" stroke="#111" stroke-width="0.22" textLength="14.21" lengthAdjust="spacingAndGlyphs">LPS</text>
<text transform="translate(434.4,98.1) rotate(-45)" font-size="8.0" text-anchor="end" font-weight="normal" fill="#111" stroke="#111" stroke-width="0.22" textLength="46.61" lengthAdjust="spacingAndGlyphs">LPS+ML120B</text>
<line x1="266.2" y1="165.3" x2="266.2" y2="234.3" stroke="#1a1a1a" stroke-width="1.1"/>
<line x1="263.4" y1="233.8" x2="266.2" y2="233.8" stroke="#1a1a1a" stroke-width="1.1"/>
<text x="260.4" y="236.43" font-size="7.3" text-anchor="end" font-weight="normal" fill="#111" stroke="#111" stroke-width="0.22" textLength="4.4" lengthAdjust="spacingAndGlyphs">0</text>
<line x1="263.4" y1="217.4" x2="266.2" y2="217.4" stroke="#1a1a1a" stroke-width="1.1"/>
<text x="260.4" y="220.03" font-size="7.3" text-anchor="end" font-weight="normal" fill="#111" stroke="#111" stroke-width="0.22" textLength="4.4" lengthAdjust="spacingAndGlyphs">5</text>
<line x1="263.4" y1="201" x2="266.2" y2="201" stroke="#1a1a1a" stroke-width="1.1"/>
<text x="260.4" y="203.63" font-size="7.3" text-anchor="end" font-weight="normal" fill="#111" stroke="#111" stroke-width="0.22" textLength="8.8" lengthAdjust="spacingAndGlyphs">10</text>
<line x1="263.4" y1="184.6" x2="266.2" y2="184.6" stroke="#1a1a1a" stroke-width="1.1"/>
<text x="260.4" y="187.23" font-size="7.3" text-anchor="end" font-weight="normal" fill="#111" stroke="#111" stroke-width="0.22" textLength="8.8" lengthAdjust="spacingAndGlyphs">15</text>
<line x1="263.4" y1="168.2" x2="266.2" y2="168.2" stroke="#1a1a1a" stroke-width="1.1"/>
<text x="260.4" y="170.83" font-size="7.3" text-anchor="end" font-weight="normal" fill="#111" stroke="#111" stroke-width="0.22" textLength="8.8" lengthAdjust="spacingAndGlyphs">20</text>
<line x1="265.7" y1="233.8" x2="315" y2="233.8" stroke="#1a1a1a" stroke-width="1.1"/>
<line x1="280.2" y1="233.8" x2="280.2" y2="236.6" stroke="#1a1a1a" stroke-width="1.1"/>
<line x1="300.95" y1="233.8" x2="300.95" y2="236.6" stroke="#1a1a1a" stroke-width="1.1"/>
<rect x="273.2" y="200.1" width="14" height="33.7" fill="#a083aa"/>
<rect x="294" y="181" width="13.9" height="52.8" fill="#929fcb"/>
<line x1="280.2" y1="195.4" x2="280.2" y2="204.6" stroke="#1a1a1a" stroke-width="0.8"/>
<line x1="277.2" y1="195.4" x2="283.2" y2="195.4" stroke="#1a1a1a" stroke-width="0.8"/>
<line x1="277.2" y1="204.6" x2="283.2" y2="204.6" stroke="#1a1a1a" stroke-width="0.8"/>
<line x1="300.95" y1="176.8" x2="300.95" y2="185" stroke="#1a1a1a" stroke-width="0.8"/>
<line x1="297.95" y1="176.8" x2="303.95" y2="176.8" stroke="#1a1a1a" stroke-width="0.8"/>
<line x1="297.95" y1="185" x2="303.95" y2="185" stroke="#1a1a1a" stroke-width="0.8"/>
<circle cx="277" cy="188.6" r="1.85" fill="#5c1f74" stroke="#111" stroke-width="0.75"/>
<circle cx="283.4" cy="194.6" r="1.85" fill="#5c1f74" stroke="#111" stroke-width="0.75"/>
<circle cx="277" cy="208.4" r="1.85" fill="#5c1f74" stroke="#111" stroke-width="0.75"/>
<circle cx="282.9" cy="207.8" r="1.85" fill="#5c1f74" stroke="#111" stroke-width="0.75"/>
<circle cx="301.1" cy="171.9" r="1.85" fill="#2d5ca9" stroke="#111" stroke-width="0.75"/>
<circle cx="298.3" cy="180" r="1.85" fill="#2d5ca9" stroke="#111" stroke-width="0.75"/>
<circle cx="304.1" cy="181.5" r="1.85" fill="#2d5ca9" stroke="#111" stroke-width="0.75"/>
<circle cx="301.1" cy="191.3" r="1.85" fill="#2d5ca9" stroke="#111" stroke-width="0.75"/>
<polyline points="280.2,179 280.2,157.7 300.95,157.7 300.95,164.2" fill="none" stroke="#1a1a1a" stroke-width="0.8" stroke-linejoin="miter"/>
<text x="290.57" y="157.7" font-size="7.5" text-anchor="middle" font-weight="normal" fill="#1a1a1a" stroke="#1a1a1a" stroke-width="0.22">*</text>
<text transform="translate(283.2,243.7) rotate(-45)" font-size="8.0" text-anchor="end" font-weight="normal" fill="#111" stroke="#111" stroke-width="0.22" textLength="14.21" lengthAdjust="spacingAndGlyphs">LPS</text>
<text transform="translate(303.95,243.7) rotate(-45)" font-size="8.0" text-anchor="end" font-weight="normal" fill="#111" stroke="#111" stroke-width="0.22" textLength="46.61" lengthAdjust="spacingAndGlyphs">LPS+ML120B</text>
<line x1="364.1" y1="165.3" x2="364.1" y2="234.3" stroke="#1a1a1a" stroke-width="1.1"/>
<line x1="361.3" y1="233.8" x2="364.1" y2="233.8" stroke="#1a1a1a" stroke-width="1.1"/>
<text x="358.3" y="236.43" font-size="7.3" text-anchor="end" font-weight="normal" fill="#111" stroke="#111" stroke-width="0.22" textLength="4.4" lengthAdjust="spacingAndGlyphs">0</text>
<line x1="361.3" y1="220.68" x2="364.1" y2="220.68" stroke="#1a1a1a" stroke-width="1.1"/>
<text x="358.3" y="223.31" font-size="7.3" text-anchor="end" font-weight="normal" fill="#111" stroke="#111" stroke-width="0.22" textLength="4.4" lengthAdjust="spacingAndGlyphs">2</text>
<line x1="361.3" y1="207.56" x2="364.1" y2="207.56" stroke="#1a1a1a" stroke-width="1.1"/>
<text x="358.3" y="210.19" font-size="7.3" text-anchor="end" font-weight="normal" fill="#111" stroke="#111" stroke-width="0.22" textLength="4.4" lengthAdjust="spacingAndGlyphs">4</text>
<line x1="361.3" y1="194.44" x2="364.1" y2="194.44" stroke="#1a1a1a" stroke-width="1.1"/>
<text x="358.3" y="197.07" font-size="7.3" text-anchor="end" font-weight="normal" fill="#111" stroke="#111" stroke-width="0.22" textLength="4.4" lengthAdjust="spacingAndGlyphs">6</text>
<line x1="361.3" y1="181.32" x2="364.1" y2="181.32" stroke="#1a1a1a" stroke-width="1.1"/>
<text x="358.3" y="183.95" font-size="7.3" text-anchor="end" font-weight="normal" fill="#111" stroke="#111" stroke-width="0.22" textLength="4.4" lengthAdjust="spacingAndGlyphs">8</text>
<line x1="361.3" y1="168.2" x2="364.1" y2="168.2" stroke="#1a1a1a" stroke-width="1.1"/>
<text x="358.3" y="170.83" font-size="7.3" text-anchor="end" font-weight="normal" fill="#111" stroke="#111" stroke-width="0.22" textLength="8.8" lengthAdjust="spacingAndGlyphs">10</text>
<line x1="363.6" y1="233.8" x2="414" y2="233.8" stroke="#1a1a1a" stroke-width="1.1"/>
<line x1="378.95" y1="233.8" x2="378.95" y2="236.6" stroke="#1a1a1a" stroke-width="1.1"/>
<line x1="399.8" y1="233.8" x2="399.8" y2="236.6" stroke="#1a1a1a" stroke-width="1.1"/>
<rect x="372.2" y="198.4" width="13.5" height="35.4" fill="#a083aa"/>
<rect x="392.6" y="179.8" width="14.4" height="54" fill="#929fcb"/>
<line x1="378.95" y1="196.2" x2="378.95" y2="201.4" stroke="#1a1a1a" stroke-width="0.8"/>
<line x1="375.95" y1="196.2" x2="381.95" y2="196.2" stroke="#1a1a1a" stroke-width="0.8"/>
<line x1="375.95" y1="201.4" x2="381.95" y2="201.4" stroke="#1a1a1a" stroke-width="0.8"/>
<line x1="399.8" y1="175.2" x2="399.8" y2="183.3" stroke="#1a1a1a" stroke-width="0.8"/>
<line x1="396.8" y1="175.2" x2="402.8" y2="175.2" stroke="#1a1a1a" stroke-width="0.8"/>
<line x1="396.8" y1="183.3" x2="402.8" y2="183.3" stroke="#1a1a1a" stroke-width="0.8"/>
<circle cx="375" cy="194.2" r="1.85" fill="#5c1f74" stroke="#111" stroke-width="0.75"/>
<circle cx="382.2" cy="193.7" r="1.85" fill="#5c1f74" stroke="#111" stroke-width="0.75"/>
<circle cx="378.7" cy="198.8" r="1.85" fill="#5c1f74" stroke="#111" stroke-width="0.75"/>
<circle cx="378.7" cy="207.6" r="1.85" fill="#5c1f74" stroke="#111" stroke-width="0.75"/>
<circle cx="400" cy="173.3" r="1.85" fill="#2d5ca9" stroke="#111" stroke-width="0.75"/>
<circle cx="396.6" cy="176.3" r="1.85" fill="#2d5ca9" stroke="#111" stroke-width="0.75"/>
<circle cx="402.8" cy="179.3" r="1.85" fill="#2d5ca9" stroke="#111" stroke-width="0.75"/>
<circle cx="400" cy="190.7" r="1.85" fill="#2d5ca9" stroke="#111" stroke-width="0.75"/>
<polyline points="378.95,178.6 378.95,157.7 399.8,157.7 399.8,164.7" fill="none" stroke="#1a1a1a" stroke-width="0.8" stroke-linejoin="miter"/>
<text x="389.38" y="157.7" font-size="7.5" text-anchor="middle" font-weight="normal" fill="#1a1a1a" stroke="#1a1a1a" stroke-width="0.22">*</text>
<text transform="translate(381.95,243.7) rotate(-45)" font-size="8.0" text-anchor="end" font-weight="normal" fill="#111" stroke="#111" stroke-width="0.22" textLength="14.21" lengthAdjust="spacingAndGlyphs">LPS</text>
<text transform="translate(402.8,243.7) rotate(-45)" font-size="8.0" text-anchor="end" font-weight="normal" fill="#111" stroke="#111" stroke-width="0.22" textLength="46.61" lengthAdjust="spacingAndGlyphs">LPS+ML120B</text>
<line x1="463" y1="165.3" x2="463" y2="234.3" stroke="#1a1a1a" stroke-width="1.1"/>
<line x1="460.2" y1="233.8" x2="463" y2="233.8" stroke="#1a1a1a" stroke-width="1.1"/>
<text x="457.2" y="236.43" font-size="7.3" text-anchor="end" font-weight="normal" fill="#111" stroke="#111" stroke-width="0.22" textLength="4.4" lengthAdjust="spacingAndGlyphs">0</text>
<line x1="460.2" y1="211.93" x2="463" y2="211.93" stroke="#1a1a1a" stroke-width="1.1"/>
<text x="457.2" y="214.56" font-size="7.3" text-anchor="end" font-weight="normal" fill="#111" stroke="#111" stroke-width="0.22" textLength="8.8" lengthAdjust="spacingAndGlyphs">20</text>
<line x1="460.2" y1="190.07" x2="463" y2="190.07" stroke="#1a1a1a" stroke-width="1.1"/>
<text x="457.2" y="192.69" font-size="7.3" text-anchor="end" font-weight="normal" fill="#111" stroke="#111" stroke-width="0.22" textLength="8.8" lengthAdjust="spacingAndGlyphs">40</text>
<line x1="460.2" y1="168.2" x2="463" y2="168.2" stroke="#1a1a1a" stroke-width="1.1"/>
<text x="457.2" y="170.83" font-size="7.3" text-anchor="end" font-weight="normal" fill="#111" stroke="#111" stroke-width="0.22" textLength="8.8" lengthAdjust="spacingAndGlyphs">60</text>
<line x1="462.5" y1="233.8" x2="512.4" y2="233.8" stroke="#1a1a1a" stroke-width="1.1"/>
<line x1="477.7" y1="233.8" x2="477.7" y2="236.6" stroke="#1a1a1a" stroke-width="1.1"/>
<line x1="498.6" y1="233.8" x2="498.6" y2="236.6" stroke="#1a1a1a" stroke-width="1.1"/>
<rect x="470.9" y="202.2" width="13.6" height="31.6" fill="#a083aa"/>
<rect x="491.9" y="184.1" width="13.4" height="49.7" fill="#929fcb"/>
<line x1="477.7" y1="198.5" x2="477.7" y2="205.5" stroke="#1a1a1a" stroke-width="0.8"/>
<line x1="474.7" y1="198.5" x2="480.7" y2="198.5" stroke="#1a1a1a" stroke-width="0.8"/>
<line x1="474.7" y1="205.5" x2="480.7" y2="205.5" stroke="#1a1a1a" stroke-width="0.8"/>
<line x1="498.6" y1="179.3" x2="498.6" y2="188.7" stroke="#1a1a1a" stroke-width="0.8"/>
<line x1="495.6" y1="179.3" x2="501.6" y2="179.3" stroke="#1a1a1a" stroke-width="0.8"/>
<line x1="495.6" y1="188.7" x2="501.6" y2="188.7" stroke="#1a1a1a" stroke-width="0.8"/>
<circle cx="477.6" cy="191.8" r="1.85" fill="#5c1f74" stroke="#111" stroke-width="0.75"/>
<circle cx="478" cy="203.5" r="1.85" fill="#5c1f74" stroke="#111" stroke-width="0.75"/>
<circle cx="474.4" cy="208.2" r="1.85" fill="#5c1f74" stroke="#111" stroke-width="0.75"/>
<circle cx="480.7" cy="206" r="1.85" fill="#5c1f74" stroke="#111" stroke-width="0.75"/>
<circle cx="498.3" cy="172" r="1.85" fill="#2d5ca9" stroke="#111" stroke-width="0.75"/>
<circle cx="498.3" cy="178.4" r="1.85" fill="#2d5ca9" stroke="#111" stroke-width="0.75"/>
<circle cx="495.2" cy="194" r="1.85" fill="#2d5ca9" stroke="#111" stroke-width="0.75"/>
<circle cx="501.5" cy="190.3" r="1.85" fill="#2d5ca9" stroke="#111" stroke-width="0.75"/>
<polyline points="477.7,178.2 477.7,157.7 498.6,157.7 498.6,164.4" fill="none" stroke="#1a1a1a" stroke-width="0.8" stroke-linejoin="miter"/>
<text x="488.15" y="157.7" font-size="7.5" text-anchor="middle" font-weight="normal" fill="#1a1a1a" stroke="#1a1a1a" stroke-width="0.22">*</text>
<text transform="translate(480.7,243.7) rotate(-45)" font-size="8.0" text-anchor="end" font-weight="normal" fill="#111" stroke="#111" stroke-width="0.22" textLength="14.21" lengthAdjust="spacingAndGlyphs">LPS</text>
<text transform="translate(501.6,243.7) rotate(-45)" font-size="8.0" text-anchor="end" font-weight="normal" fill="#111" stroke="#111" stroke-width="0.22" textLength="46.61" lengthAdjust="spacingAndGlyphs">LPS+ML120B</text>
<text transform="translate(233.6,199.9) rotate(-90)" font-size="8.8" text-anchor="middle" font-weight="normal" fill="#1a1a1a" stroke="#1a1a1a" stroke-width="0.22" textLength="32.4" lengthAdjust="spacingAndGlyphs">Thrombin</text>
<text transform="translate(245.3,200.8) rotate(-90)" font-size="8.8" text-anchor="middle" font-weight="normal" fill="#1a1a1a" stroke="#1a1a1a" stroke-width="0.22" textLength="37.6" lengthAdjust="spacingAndGlyphs">(% of field)</text>
<text transform="translate(332.7,200) rotate(-90)" font-size="8.8" text-anchor="middle" font-weight="normal" fill="#1a1a1a" stroke="#1a1a1a" stroke-width="0.22" textLength="28.3" lengthAdjust="spacingAndGlyphs">Platelets</text>
<text transform="translate(344.9,200) rotate(-90)" font-size="8.8" text-anchor="middle" font-weight="normal" fill="#1a1a1a" stroke="#1a1a1a" stroke-width="0.22" textLength="29" lengthAdjust="spacingAndGlyphs">(% field)</text>
<text transform="translate(431.3,199.5) rotate(-90)" font-size="8.8" text-anchor="middle" font-weight="normal" fill="#1a1a1a" stroke="#1a1a1a" stroke-width="0.22" textLength="53.4" lengthAdjust="spacingAndGlyphs">Occluded vessel</text>
<text transform="translate(442.7,199.2) rotate(-90)" font-size="8.8" text-anchor="middle" font-weight="normal" fill="#1a1a1a" stroke="#1a1a1a" stroke-width="0.22" textLength="29.7" lengthAdjust="spacingAndGlyphs">(% field)</text>
<line x1="266.3" y1="307.2" x2="266.3" y2="376.1" stroke="#1a1a1a" stroke-width="1.1"/>
<line x1="263.5" y1="375.6" x2="266.3" y2="375.6" stroke="#1a1a1a" stroke-width="1.1"/>
<text x="260.5" y="378.23" font-size="7.3" text-anchor="end" font-weight="normal" fill="#111" stroke="#111" stroke-width="0.22" textLength="4.4" lengthAdjust="spacingAndGlyphs">0</text>
<line x1="263.5" y1="353.77" x2="266.3" y2="353.77" stroke="#1a1a1a" stroke-width="1.1"/>
<text x="260.5" y="356.39" font-size="7.3" text-anchor="end" font-weight="normal" fill="#111" stroke="#111" stroke-width="0.22" textLength="8.8" lengthAdjust="spacingAndGlyphs">20</text>
<line x1="263.5" y1="331.93" x2="266.3" y2="331.93" stroke="#1a1a1a" stroke-width="1.1"/>
<text x="260.5" y="334.56" font-size="7.3" text-anchor="end" font-weight="normal" fill="#111" stroke="#111" stroke-width="0.22" textLength="8.8" lengthAdjust="spacingAndGlyphs">40</text>
<line x1="263.5" y1="310.1" x2="266.3" y2="310.1" stroke="#1a1a1a" stroke-width="1.1"/>
<text x="260.5" y="312.73" font-size="7.3" text-anchor="end" font-weight="normal" fill="#111" stroke="#111" stroke-width="0.22" textLength="8.8" lengthAdjust="spacingAndGlyphs">60</text>
<line x1="265.8" y1="375.6" x2="339.7" y2="375.6" stroke="#1a1a1a" stroke-width="1.1"/>
<line x1="280.9" y1="375.6" x2="280.9" y2="378.4" stroke="#1a1a1a" stroke-width="1.1"/>
<line x1="303.1" y1="375.6" x2="303.1" y2="378.4" stroke="#1a1a1a" stroke-width="1.1"/>
<line x1="324.8" y1="375.6" x2="324.8" y2="378.4" stroke="#1a1a1a" stroke-width="1.1"/>
<rect x="273.5" y="369" width="14.6" height="6.6" fill="#f8d59d"/>
<rect x="295.8" y="341.8" width="14.2" height="33.8" fill="#a083aa"/>
<rect x="317.4" y="325.9" width="14.6" height="49.7" fill="#929fcb"/>
<line x1="280.9" y1="367.6" x2="280.9" y2="370.5" stroke="#1a1a1a" stroke-width="0.8"/>
<line x1="277.9" y1="367.6" x2="283.9" y2="367.6" stroke="#1a1a1a" stroke-width="0.8"/>
<line x1="277.9" y1="370.5" x2="283.9" y2="370.5" stroke="#1a1a1a" stroke-width="0.8"/>
<line x1="303.1" y1="337.6" x2="303.1" y2="346" stroke="#1a1a1a" stroke-width="0.8"/>
<line x1="300.1" y1="337.6" x2="306.1" y2="337.6" stroke="#1a1a1a" stroke-width="0.8"/>
<line x1="300.1" y1="346" x2="306.1" y2="346" stroke="#1a1a1a" stroke-width="0.8"/>
<line x1="324.8" y1="322.4" x2="324.8" y2="330.1" stroke="#1a1a1a" stroke-width="0.8"/>
<line x1="321.8" y1="322.4" x2="327.8" y2="322.4" stroke="#1a1a1a" stroke-width="0.8"/>
<line x1="321.8" y1="330.1" x2="327.8" y2="330.1" stroke="#1a1a1a" stroke-width="0.8"/>
<circle cx="276.3" cy="366.2" r="1.85" fill="#f4a11f" stroke="#111" stroke-width="0.75"/>
<circle cx="281.2" cy="370.9" r="1.85" fill="#f4a11f" stroke="#111" stroke-width="0.75"/>
<circle cx="285.5" cy="370.5" r="1.85" fill="#f4a11f" stroke="#111" stroke-width="0.75"/>
<circle cx="303.1" cy="329.1" r="1.85" fill="#5c1f74" stroke="#111" stroke-width="0.75"/>
<circle cx="305.4" cy="337.6" r="1.85" fill="#5c1f74" stroke="#111" stroke-width="0.75"/>
<circle cx="299.6" cy="340.5" r="1.85" fill="#5c1f74" stroke="#111" stroke-width="0.75"/>
<circle cx="303.1" cy="346.8" r="1.85" fill="#5c1f74" stroke="#111" stroke-width="0.75"/>
<circle cx="303.1" cy="353.7" r="1.85" fill="#5c1f74" stroke="#111" stroke-width="0.75"/>
<circle cx="322.6" cy="316.7" r="1.85" fill="#2d5ca9" stroke="#111" stroke-width="0.75"/>
<circle cx="328.2" cy="316.7" r="1.85" fill="#2d5ca9" stroke="#111" stroke-width="0.75"/>
<circle cx="324.7" cy="328.6" r="1.85" fill="#2d5ca9" stroke="#111" stroke-width="0.75"/>
<circle cx="328.2" cy="333.4" r="1.85" fill="#2d5ca9" stroke="#111" stroke-width="0.75"/>
<circle cx="322.2" cy="334.9" r="1.85" fill="#2d5ca9" stroke="#111" stroke-width="0.75"/>
<polyline points="303.1,320.3 303.1,299.8 324.8,299.8 324.8,305.7" fill="none" stroke="#1a1a1a" stroke-width="0.8" stroke-linejoin="miter"/>
<text x="313.95" y="299.8" font-size="7.5" text-anchor="middle" font-weight="normal" fill="#1a1a1a" stroke="#1a1a1a" stroke-width="0.22">*</text>
<text transform="translate(283.9,385.5) rotate(-45)" font-size="8.0" text-anchor="end" font-weight="normal" fill="#111" stroke="#111" stroke-width="0.22" textLength="28.01" lengthAdjust="spacingAndGlyphs">ML120B</text>
<text transform="translate(306.1,385.5) rotate(-45)" font-size="8.0" text-anchor="end" font-weight="normal" fill="#111" stroke="#111" stroke-width="0.22" textLength="14.21" lengthAdjust="spacingAndGlyphs">LPS</text>
<text transform="translate(327.8,385.5) rotate(-45)" font-size="8.0" text-anchor="end" font-weight="normal" fill="#111" stroke="#111" stroke-width="0.22" textLength="46.61" lengthAdjust="spacingAndGlyphs">LPS+ML120B</text>
<line x1="382.3" y1="307.2" x2="382.3" y2="376.1" stroke="#1a1a1a" stroke-width="1.1"/>
<line x1="379.5" y1="375.6" x2="382.3" y2="375.6" stroke="#1a1a1a" stroke-width="1.1"/>
<text x="376.5" y="378.23" font-size="7.3" text-anchor="end" font-weight="normal" fill="#111" stroke="#111" stroke-width="0.22" textLength="4.4" lengthAdjust="spacingAndGlyphs">0</text>
<line x1="379.5" y1="359.23" x2="382.3" y2="359.23" stroke="#1a1a1a" stroke-width="1.1"/>
<text x="376.5" y="361.85" font-size="7.3" text-anchor="end" font-weight="normal" fill="#111" stroke="#111" stroke-width="0.22" textLength="13.2" lengthAdjust="spacingAndGlyphs">200</text>
<line x1="379.5" y1="342.85" x2="382.3" y2="342.85" stroke="#1a1a1a" stroke-width="1.1"/>
<text x="376.5" y="345.48" font-size="7.3" text-anchor="end" font-weight="normal" fill="#111" stroke="#111" stroke-width="0.22" textLength="13.2" lengthAdjust="spacingAndGlyphs">400</text>
<line x1="379.5" y1="326.48" x2="382.3" y2="326.48" stroke="#1a1a1a" stroke-width="1.1"/>
<text x="376.5" y="329.1" font-size="7.3" text-anchor="end" font-weight="normal" fill="#111" stroke="#111" stroke-width="0.22" textLength="13.2" lengthAdjust="spacingAndGlyphs">600</text>
<line x1="379.5" y1="310.1" x2="382.3" y2="310.1" stroke="#1a1a1a" stroke-width="1.1"/>
<text x="376.5" y="312.73" font-size="7.3" text-anchor="end" font-weight="normal" fill="#111" stroke="#111" stroke-width="0.22" textLength="13.2" lengthAdjust="spacingAndGlyphs">800</text>
<line x1="381.8" y1="375.6" x2="455.7" y2="375.6" stroke="#1a1a1a" stroke-width="1.1"/>
<line x1="396.8" y1="375.6" x2="396.8" y2="378.4" stroke="#1a1a1a" stroke-width="1.1"/>
<line x1="419.1" y1="375.6" x2="419.1" y2="378.4" stroke="#1a1a1a" stroke-width="1.1"/>
<line x1="440.7" y1="375.6" x2="440.7" y2="378.4" stroke="#1a1a1a" stroke-width="1.1"/>
<rect x="411.8" y="341.3" width="14.2" height="34.3" fill="#a083aa"/>
<rect x="433.4" y="324.5" width="14.6" height="51.1" fill="#929fcb"/>
<line x1="419.1" y1="338" x2="419.1" y2="343.9" stroke="#1a1a1a" stroke-width="0.8"/>
<line x1="416.1" y1="338" x2="422.1" y2="338" stroke="#1a1a1a" stroke-width="0.8"/>
<line x1="416.1" y1="343.9" x2="422.1" y2="343.9" stroke="#1a1a1a" stroke-width="0.8"/>
<line x1="440.7" y1="321.3" x2="440.7" y2="328.2" stroke="#1a1a1a" stroke-width="0.8"/>
<line x1="437.7" y1="321.3" x2="443.7" y2="321.3" stroke="#1a1a1a" stroke-width="0.8"/>
<line x1="437.7" y1="328.2" x2="443.7" y2="328.2" stroke="#1a1a1a" stroke-width="0.8"/>
<circle cx="392.2" cy="375.4" r="1.85" fill="#f4a11f" stroke="#111" stroke-width="0.75"/>
<circle cx="396.8" cy="375.4" r="1.85" fill="#f4a11f" stroke="#111" stroke-width="0.75"/>
<circle cx="401.4" cy="375.4" r="1.85" fill="#f4a11f" stroke="#111" stroke-width="0.75"/>
<circle cx="419.1" cy="330.7" r="1.85" fill="#5c1f74" stroke="#111" stroke-width="0.75"/>
<circle cx="419.1" cy="339.1" r="1.85" fill="#5c1f74" stroke="#111" stroke-width="0.75"/>
<circle cx="415.6" cy="340.5" r="1.85" fill="#5c1f74" stroke="#111" stroke-width="0.75"/>
<circle cx="421.9" cy="345.4" r="1.85" fill="#5c1f74" stroke="#111" stroke-width="0.75"/>
<circle cx="419.1" cy="351.2" r="1.85" fill="#5c1f74" stroke="#111" stroke-width="0.75"/>
<circle cx="440.7" cy="316.1" r="1.85" fill="#2d5ca9" stroke="#111" stroke-width="0.75"/>
<circle cx="438.2" cy="319.2" r="1.85" fill="#2d5ca9" stroke="#111" stroke-width="0.75"/>
<circle cx="446.5" cy="323.8" r="1.85" fill="#2d5ca9" stroke="#111" stroke-width="0.75"/>
<circle cx="443.8" cy="329.7" r="1.85" fill="#2d5ca9" stroke="#111" stroke-width="0.75"/>
<circle cx="438.2" cy="333.4" r="1.85" fill="#2d5ca9" stroke="#111" stroke-width="0.75"/>
<polyline points="419.1,320.9 419.1,299.8 440.7,299.8 440.7,306.7" fill="none" stroke="#1a1a1a" stroke-width="0.8" stroke-linejoin="miter"/>
<text x="429.9" y="299.8" font-size="7.5" text-anchor="middle" font-weight="normal" fill="#1a1a1a" stroke="#1a1a1a" stroke-width="0.22">*</text>
<text transform="translate(399.8,385.5) rotate(-45)" font-size="8.0" text-anchor="end" font-weight="normal" fill="#111" stroke="#111" stroke-width="0.22" textLength="28.01" lengthAdjust="spacingAndGlyphs">ML120B</text>
<text transform="translate(422.1,385.5) rotate(-45)" font-size="8.0" text-anchor="end" font-weight="normal" fill="#111" stroke="#111" stroke-width="0.22" textLength="14.21" lengthAdjust="spacingAndGlyphs">LPS</text>
<text transform="translate(443.7,385.5) rotate(-45)" font-size="8.0" text-anchor="end" font-weight="normal" fill="#111" stroke="#111" stroke-width="0.22" textLength="46.61" lengthAdjust="spacingAndGlyphs">LPS+ML120B</text>
<text transform="translate(245.3,342) rotate(-90)" font-size="8.6" text-anchor="middle" font-weight="normal" fill="#1a1a1a" stroke="#1a1a1a" stroke-width="0.22" textLength="35.3" lengthAdjust="spacingAndGlyphs">TAT(ng/ml)</text>
<text transform="translate(355.8,341.3) rotate(-90)" font-size="8.6" text-anchor="middle" font-weight="normal" fill="#1a1a1a" stroke="#1a1a1a" stroke-width="0.22" textLength="42.9" lengthAdjust="spacingAndGlyphs">PAI-1(ng/ml)</text>
<rect x="0.5" y="0.5" width="519" height="430" fill="none" stroke="#000" stroke-width="1.2"/>
</svg>
</body></html>
